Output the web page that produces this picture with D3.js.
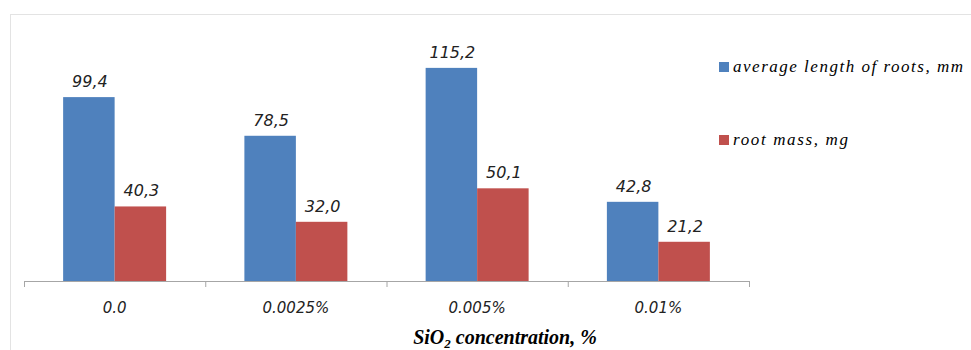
<!DOCTYPE html>
<html><head><meta charset="utf-8">
<script src="https://cdn.jsdelivr.net/npm/d3@7"></script>
<style>body{margin:0;background:#fff}svg{display:block}</style>
</head><body>
<script>
const categories = ["0.0", "0.0025%", "0.005%", "0.01%"];
const seriesNames = ["average length of roots, mm", "root mass, mg"];
const lengthValues = [99.4, 78.5, 115.2, 42.8];
const massValues = [40.3, 32.0, 50.1, 21.2];
const valueLabels = [["99,4","78,5","115,2","42,8"],["40,3","32,0","50,1","21,2"]];
const colors = ["#4f81bd", "#c0504d"];

const W = 971, H = 350;
const svg = d3.select("body").append("svg").attr("width", W).attr("height", H);

// chart frame
svg.append("rect").attr("x", 10.5).attr("y", 14.5).attr("width", 970).attr("height", 400)
  .attr("fill", "none").attr("stroke", "#e3e3e3").attr("stroke-width", 1);

const axisY = 281;
const x = d3.scaleBand().domain(categories).range([24, 749]).paddingInner(0).paddingOuter(0);
const x1 = d3.scaleBand().domain([0, 1]).range([0, x.bandwidth()]).paddingInner(0).paddingOuter(0.76);
const y = d3.scaleLinear().domain([0, 140]).range([axisY, axisY - 140 * 1.85]);

const series = [lengthValues, massValues];
series.forEach((vals, si) => {
  const g = svg.append("g");
  g.selectAll("rect").data(vals).join("rect")
    .attr("x", (d, i) => x(categories[i]) + x1(si))
    .attr("y", d => y(d))
    .attr("width", x1.bandwidth())
    .attr("height", d => axisY - y(d))
    .attr("fill", colors[si]);
  g.selectAll("text").data(vals).join("text")
    .attr("x", (d, i) => x(categories[i]) + x1(si) + x1.bandwidth() / 2 + 1)
    .attr("y", d => y(d) - 10)
    .attr("text-anchor", "middle")
    .attr("font-family", "'DejaVu Sans', sans-serif")
    .attr("font-style", "italic")
    .attr("font-size", 16)
    .attr("fill", "#222")
    .text((d, i) => valueLabels[si][i]);
});

// x axis
const ag = svg.append("g").attr("transform", `translate(0,${axisY})`);
ag.append("line").attr("x1", 24).attr("x2", 749).attr("y1", 0.5).attr("y2", 0.5).attr("stroke", "#a6a6a6");
const edges = categories.map(c => x(c)).concat([x.range()[1]]);
ag.selectAll("line.tick").data(edges).join("line").attr("class", "tick")
  .attr("x1", d => d + 0.5).attr("x2", d => d + 0.5).attr("y1", 0).attr("y2", 6).attr("stroke", "#a6a6a6");
ag.selectAll("text.lbl").data(categories).join("text").attr("class", "lbl")
  .attr("x", d => x(d) + x.bandwidth() / 2)
  .attr("y", 32)
  .attr("text-anchor", "middle")
  .attr("font-family", "'DejaVu Sans', sans-serif")
  .attr("font-style", "italic")
  .attr("font-size", 15)
  .attr("fill", "#222")
  .text(d => d);

// axis title
const t = svg.append("text").attr("x", 505).attr("y", 344).attr("text-anchor", "middle")
  .attr("font-family", "'Liberation Serif', serif").attr("font-style", "italic").attr("font-weight", "bold")
  .attr("font-size", 20).attr("fill", "#000");
t.append("tspan").text("SiO");
t.append("tspan").attr("font-size", 13).attr("dy", 4).text("2");
t.append("tspan").attr("dy", -4).text(" concentration, %");

// legend
const leg = svg.append("g");
const legY = [62, 135];
const legW = [230, 115];
seriesNames.forEach((n, i) => {
  leg.append("rect").attr("x", 719).attr("y", legY[i]).attr("width", 10).attr("height", 10).attr("fill", colors[i]);
  leg.append("text").attr("x", 733).attr("y", legY[i] + 10)
    .attr("font-family", "'Liberation Serif', serif").attr("font-style", "italic")
    .attr("font-size", 17).attr("fill", "#000")
    .attr("textLength", legW[i]).attr("lengthAdjust", "spacing")
    .text(n);
});
</script>
</body></html>
